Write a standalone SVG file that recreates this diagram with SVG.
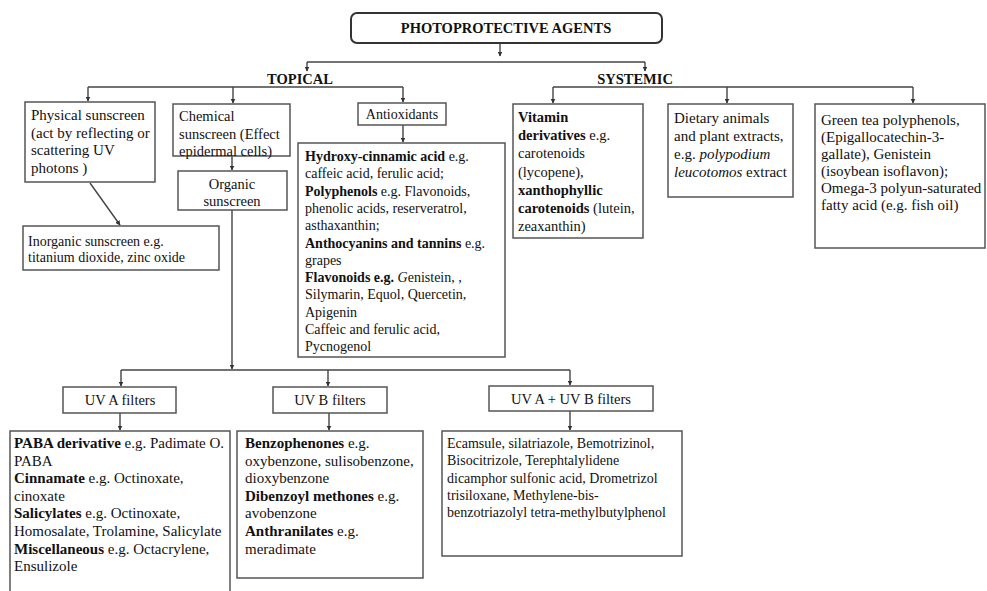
<svg xmlns="http://www.w3.org/2000/svg" width="987" height="591" viewBox="0 0 987 591">
  <style>
    text { font-family: "Liberation Serif", "Times New Roman", serif; fill: #111; }
    .b { font-weight: bold; }
    .i { font-style: italic; }
    .box { fill: #fff; stroke: #555; stroke-width: 1.5; }
    .s14 { font-size: 14px; }
    .s145 { font-size: 14.5px; }
    .s15 { font-size: 15px; }
    .head { font-size: 14.5px; font-weight: bold; text-anchor: middle; }
    .mid { text-anchor: middle; }
    .wire { fill: none; stroke: #444; stroke-width: 1.4; }
    .arr { fill: none; stroke: #444; stroke-width: 1.4; marker-end: url(#tip); }
  </style>
  <defs>
    <marker id="tip" viewBox="0 0 10 10" refX="9" refY="5" markerWidth="5" markerHeight="5" markerUnits="userSpaceOnUse" orient="auto">
      <path d="M0,0 L10,5 L0,10 z" fill="#333"/>
    </marker>
  </defs>
  <rect width="987" height="591" fill="#fff"/>

  <g id="connectors">
    <line class="arr" x1="500" y1="43" x2="500" y2="56"/>
    <line class="wire" x1="307" y1="62" x2="645" y2="62"/>
    <line class="arr" x1="307" y1="62" x2="307" y2="71"/>
    <line class="arr" x1="645" y1="62" x2="645" y2="71"/>

    <line class="wire" x1="88" y1="87" x2="403" y2="87"/>
    <line class="arr" x1="88" y1="87" x2="88" y2="101"/>
    <line class="arr" x1="233" y1="87" x2="233" y2="103"/>
    <line class="arr" x1="403" y1="87" x2="403" y2="102"/>

    <line class="wire" x1="553" y1="87" x2="913" y2="87"/>
    <line class="arr" x1="553" y1="87" x2="553" y2="103"/>
    <line class="arr" x1="727" y1="87" x2="727" y2="103"/>
    <line class="arr" x1="913" y1="87" x2="913" y2="103"/>

    <line class="arr" x1="232" y1="156" x2="232" y2="170"/>
    <line class="arr" x1="403" y1="125" x2="403" y2="142"/>
    <line class="arr" x1="90" y1="183" x2="120" y2="225"/>

    <line class="arr" x1="232" y1="210" x2="232" y2="369"/>
    <line class="wire" x1="121" y1="370" x2="570" y2="370"/>
    <line class="arr" x1="121" y1="370" x2="121" y2="386"/>
    <line class="arr" x1="328" y1="370" x2="328" y2="386"/>
    <line class="arr" x1="570" y1="370" x2="570" y2="385"/>

    <line class="arr" x1="120" y1="413" x2="120" y2="430"/>
    <line class="arr" x1="329" y1="413" x2="329" y2="430"/>
    <line class="arr" x1="570" y1="411" x2="570" y2="430"/>
  </g>

  <g id="root">
    <rect x="351" y="13" width="311" height="30" rx="6" fill="#fff" stroke="#333" stroke-width="2"/>
    <text class="head" x="506" y="33">PHOTOPROTECTIVE AGENTS</text>
  </g>

  <g id="topical">
    <text class="head" x="300" y="84">TOPICAL</text>
  </g>
  <g id="systemic">
    <text class="head" x="635" y="84">SYSTEMIC</text>
  </g>

  <g id="physical">
    <rect class="box" x="25" y="102" width="130" height="80"/>
    <text class="s15" x="31" y="120">Physical sunscreen</text>
    <text class="s15" x="31" y="137.5">(act by  reflecting or</text>
    <text class="s15" x="31" y="155">scattering UV</text>
    <text class="s15" x="31" y="173">photons )</text>
  </g>

  <g id="chemical">
    <rect class="box" x="173" y="104" width="117" height="52"/>
    <text class="s145" x="179" y="121">Chemical</text>
    <text class="s145" x="179" y="138.5">sunscreen (Effect</text>
    <text class="s145" x="179" y="156">epidermal cells)</text>
  </g>

  <g id="organic">
    <rect class="box" x="178" y="171" width="109" height="39"/>
    <text class="s145 mid" x="232" y="189">Organic</text>
    <text class="s145 mid" x="232" y="206">sunscreen</text>
  </g>

  <g id="inorganic">
    <rect class="box" x="23" y="226" width="196" height="44"/>
    <text class="s14" x="28" y="246">Inorganic sunscreen e.g.</text>
    <text class="s14" x="28" y="261.5">titanium dioxide, zinc oxide</text>
  </g>

  <g id="antioxidants">
    <rect class="box" x="358" y="103" width="88" height="22"/>
    <text class="s14 mid" x="402" y="119">Antioxidants</text>
  </g>

  <g id="antioxidant-examples">
    <rect class="box" x="298" y="143" width="207" height="214"/>
    <text class="s14" x="305" y="161"><tspan class="b">Hydroxy-cinnamic acid</tspan> e.g.</text>
    <text class="s14" x="305" y="178.3">caffeic acid, ferulic acid;</text>
    <text class="s14" x="305" y="195.6"><tspan class="b">Polyphenols</tspan> e.g. Flavonoids,</text>
    <text class="s14" x="305" y="212.9">phenolic acids, reserveratrol,</text>
    <text class="s14" x="305" y="230.2">asthaxanthin;</text>
    <text class="s14" x="305" y="247.5"><tspan class="b">Anthocyanins and tannins</tspan> e.g.</text>
    <text class="s14" x="305" y="264.8">grapes</text>
    <text class="s14" x="305" y="282.1"><tspan class="b">Flavonoids e.g. </tspan><tspan class="i">G</tspan>enistein, ,</text>
    <text class="s14" x="305" y="299.4">Silymarin, Equol, Quercetin,</text>
    <text class="s14" x="305" y="316.7">Apigenin</text>
    <text class="s14" x="305" y="334">Caffeic and ferulic acid,</text>
    <text class="s14" x="305" y="351.3">Pycnogenol</text>
  </g>

  <g id="vitamin">
    <rect class="box" x="513" y="104" width="130" height="134"/>
    <text class="s145" x="518" y="122"><tspan class="b">Vitamin</tspan></text>
    <text class="s145" x="518" y="140.2"><tspan class="b">derivatives</tspan> e.g.</text>
    <text class="s145" x="518" y="158.4">carotenoids</text>
    <text class="s145" x="518" y="176.6">(lycopene),</text>
    <text class="s145" x="518" y="194.8"><tspan class="b">xanthophyllic</tspan></text>
    <text class="s145" x="518" y="213"><tspan class="b">carotenoids</tspan> (lutein,</text>
    <text class="s145" x="518" y="231.2">zeaxanthin)</text>
  </g>

  <g id="dietary">
    <rect class="box" x="668" y="104" width="125" height="93"/>
    <text class="s15" x="674" y="123">Dietary animals</text>
    <text class="s15" x="674" y="141">and plant extracts,</text>
    <text class="s15" x="674" y="159">e.g. <tspan class="i">polypodium</tspan></text>
    <text class="s15" x="674" y="177"><tspan class="i">leucotomos</tspan> extract</text>
  </g>

  <g id="green-tea">
    <rect class="box" x="815" y="104" width="170" height="144"/>
    <text class="s15" x="821" y="124.5">Green tea polyphenols,</text>
    <text class="s15" x="821" y="141.5">(Epigallocatechin-3-</text>
    <text class="s15" x="821" y="158.5">gallate),  Genistein</text>
    <text class="s15" x="821" y="175.5">(isoybean isoflavon);</text>
    <text class="s15" x="821" y="192.5">Omega-3 polyun-saturated</text>
    <text class="s15" x="821" y="209.5">fatty acid (e.g. fish oil)</text>
  </g>

  <g id="uva">
    <rect class="box" x="63" y="387" width="113" height="26"/>
    <text class="s145 mid" x="120" y="405">UV A filters</text>
  </g>
  <g id="uvb">
    <rect class="box" x="273" y="387" width="114" height="26"/>
    <text class="s145 mid" x="330" y="405">UV B filters</text>
  </g>
  <g id="uvab">
    <rect class="box" x="489" y="386" width="164" height="25"/>
    <text class="s145 mid" x="571" y="404">UV A + UV B filters</text>
  </g>

  <g id="uva-examples">
    <rect class="box" x="10" y="431" width="220" height="175"/>
    <text class="s15" x="14" y="448"><tspan class="b">PABA derivative</tspan> e.g. Padimate O.</text>
    <text class="s15" x="14" y="465.6">PABA</text>
    <text class="s15" x="14" y="483.2"><tspan class="b">Cinnamate</tspan> e.g. Octinoxate,</text>
    <text class="s15" x="14" y="500.8">cinoxate</text>
    <text class="s15" x="14" y="518.4"><tspan class="b">Salicylates</tspan> e.g. Octinoxate,</text>
    <text class="s15" x="14" y="536">Homosalate, Trolamine, Salicylate</text>
    <text class="s15" x="14" y="553.6"><tspan class="b">Miscellaneous</tspan> e.g. Octacrylene,</text>
    <text class="s15" x="14" y="571.2">Ensulizole</text>
  </g>

  <g id="uvb-examples">
    <rect class="box" x="237" y="431" width="186" height="147"/>
    <text class="s15" x="245" y="448"><tspan class="b">Benzophenones</tspan> e.g.</text>
    <text class="s15" x="245" y="465.6">oxybenzone, sulisobenzone,</text>
    <text class="s15" x="245" y="483.2">dioxybenzone</text>
    <text class="s15" x="245" y="500.8"><tspan class="b">Dibenzoyl methones</tspan> e.g.</text>
    <text class="s15" x="245" y="518.4">avobenzone</text>
    <text class="s15" x="245" y="536"><tspan class="b">Anthranilates</tspan> e.g.</text>
    <text class="s15" x="245" y="553.6">meradimate</text>
  </g>

  <g id="uvab-examples">
    <rect class="box" x="442" y="431" width="240" height="125"/>
    <text class="s14" x="447" y="448">Ecamsule, silatriazole, Bemotrizinol,</text>
    <text class="s14" x="447" y="465.3">Bisocitrizole, Terephtalylidene</text>
    <text class="s14" x="447" y="482.6">dicamphor sulfonic acid, Drometrizol</text>
    <text class="s14" x="447" y="499.9">trisiloxane, Methylene-bis-</text>
    <text class="s14" x="447" y="517.2">benzotriazolyl tetra-methylbutylphenol</text>
  </g>
</svg>
